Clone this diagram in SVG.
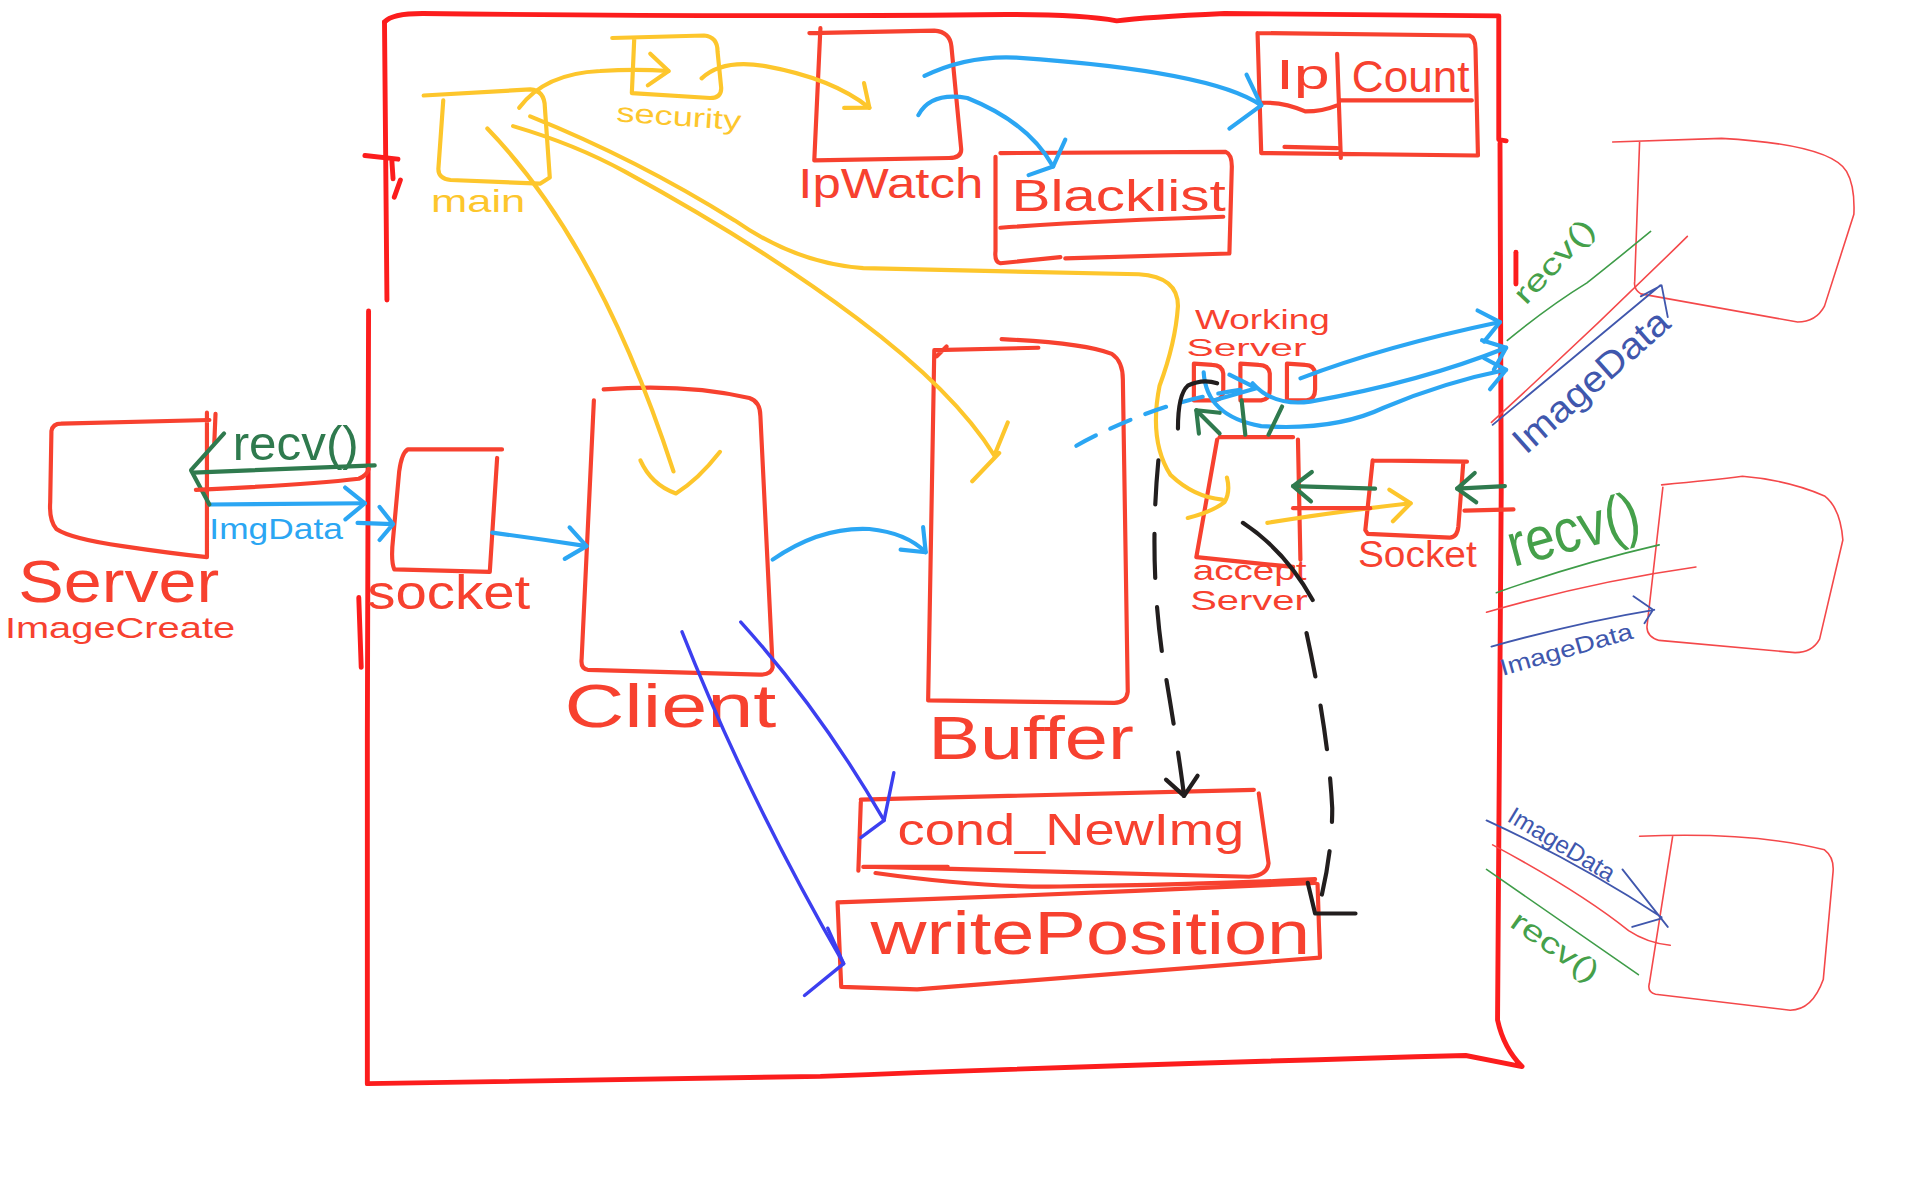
<svg xmlns="http://www.w3.org/2000/svg" width="1920" height="1200" viewBox="0 0 1920 1200">
<defs>
<style>
.s{fill:none;stroke-linecap:round;stroke-linejoin:round}
.r{stroke:#f7412f;stroke-width:3.4}
.o{stroke:#fc1d1d;stroke-width:4}
.y{stroke:#fdc62c;stroke-width:3.4}
.b{stroke:#2ba6f3;stroke-width:3.4}
.g{stroke:#2f7a4e;stroke-width:3.4}
.d{stroke:#3c3ff0;stroke-width:2.8}
.k{stroke:#221e1e;stroke-width:3.4}
.tr{stroke:#f4484a;stroke-width:1.3}
.tg{stroke:#3e9c48;stroke-width:1.3}
.tb{stroke:#4057ad;stroke-width:1.5}
.dash{stroke-dasharray:36 24}
.bdash{stroke-dasharray:18 13}
text{font-family:"Liberation Sans",Arial,sans-serif}
.lr{fill:#f7412f}
.ly{fill:#fdc62c}
.lg{fill:#2f7a4e}
.lb{fill:#2ba6f3}
.ltg{fill:#45a04a}
.ltb{fill:#4057ad}
</style>
<marker id="ab" markerUnits="userSpaceOnUse" viewBox="-20 -16 24 32" markerWidth="24" markerHeight="32" refX="0" refY="0" orient="auto"><path d="M-16,-13 L0,0 L-16,13" fill="none" stroke="#2ba6f3" stroke-width="3.4" stroke-linecap="round" stroke-linejoin="round"/></marker>
<marker id="ay" markerUnits="userSpaceOnUse" viewBox="-20 -16 24 32" markerWidth="24" markerHeight="32" refX="0" refY="0" orient="auto"><path d="M-16,-13 L0,0 L-16,13" fill="none" stroke="#fdc62c" stroke-width="3.4" stroke-linecap="round" stroke-linejoin="round"/></marker>
<marker id="ag" markerUnits="userSpaceOnUse" viewBox="-20 -16 24 32" markerWidth="24" markerHeight="32" refX="0" refY="0" orient="auto"><path d="M-15,-12 L0,0 L-15,12" fill="none" stroke="#2f7a4e" stroke-width="3.4" stroke-linecap="round" stroke-linejoin="round"/></marker>
<marker id="ak" markerUnits="userSpaceOnUse" viewBox="-20 -16 24 32" markerWidth="24" markerHeight="32" refX="0" refY="0" orient="auto"><path d="M-15,-13 L0,0 L-15,13" fill="none" stroke="#221e1e" stroke-width="3.4" stroke-linecap="round" stroke-linejoin="round"/></marker>
</defs>
<rect width="1920" height="1200" fill="#ffffff"/>
<g transform="scale(1.2244898)">

<g id="system-boundary">
<path class="s o" d="M314,18 Q320,11 345,11 Q600,14 800,12 Q880,11 912,17 Q935,14 1000,11 L1224,13 L1224,114 L1230,115"/>
<path class="s o" d="M1225,117 L1226,400 L1223,833 Q1228,856 1243,871 L1197,862 Q900,870 670,879 L300,885"/>
<path class="s o" d="M314,18 L316,245"/>
<path class="s o" d="M301,254 L300,600 L300,885"/>
<path class="s o" d="M293,488 L295,545"/>
<path class="s o" d="M298,127 L325,130 M320,131 L321,146 M327,147 L322,161"/>
<path class="s o" d="M1238,206 L1238,232"/>
</g>

<g id="main">
<path class="s y" d="M346,78 L433,73 Q445,74 445,88 L449,145 L441,150 L368,147 Q358,146 358,138 L362,82"/>
<text class="ly" x="352" y="173" font-size="26" textLength="77" lengthAdjust="spacingAndGlyphs">main</text>
</g>

<g id="security">
<path class="s y" d="M500,31 L575,29 Q586,30 586,42 L589,72 Q589,80 580,80 L516,76 M518,31 L516,76"/>
<text class="ly" x="503" y="99" font-size="22" textLength="102" lengthAdjust="spacingAndGlyphs" transform="rotate(4 503 99)">security</text>
</g>

<g id="ipwatch">
<path class="s r" d="M661,27 L763,25 Q776,26 777,38 L785,122 Q785,129 775,129 L665,131 M670,23 L665,131"/>
<text class="lr" x="652" y="162" font-size="34" textLength="151" lengthAdjust="spacingAndGlyphs">IpWatch</text>
</g>

<g id="blacklist">
<path class="s r" d="M817,125 L1001,124 Q1006,126 1006,136 L1004,207 L870,211 M866,210 L817,215 Q812,214 813,205 L813,128 M817,186 Q900,180 999,177"/>
<text class="lr" x="826" y="172" font-size="36" textLength="175" lengthAdjust="spacingAndGlyphs">Blacklist</text>
</g>

<g id="ip-count">
<path class="s r" d="M1027,27 L1200,29 Q1205,31 1205,40 L1207,127 L1030,125 L1027,27 M1092,44 L1095,129 M1030,84 Q1048,83 1066,91 Q1080,91 1092,86 M1095,82 L1202,82 M1049,120 L1092,121"/>
<text class="lr" x="1042" y="73" font-size="34" textLength="44" lengthAdjust="spacingAndGlyphs">Ip</text>
<text class="lr" x="1104" y="75" font-size="36" textLength="96" lengthAdjust="spacingAndGlyphs">Count</text>
</g>

<g id="server-imagecreate">
<path class="s r" d="M50,346 L171,343 M169,337 L169,455 Q140,452 100,446 Q58,440 46,432 Q40,425 41,410 L42,352 Q43,346 50,346 M176,338 L175,362"/>
<text class="lr" x="15" y="492" font-size="48" textLength="164" lengthAdjust="spacingAndGlyphs">Server</text>
<text class="lr" x="4" y="521" font-size="24" textLength="188" lengthAdjust="spacingAndGlyphs">ImageCreate</text>
</g>

<g id="socket-client-side">
<path class="s r" d="M333,367 L410,367 M406,374 L400,467 L322,465 Q319,458 321,440 L326,385 Q328,370 333,367"/>
<text class="lr" x="300" y="497" font-size="40" textLength="133" lengthAdjust="spacingAndGlyphs">socket</text>
</g>

<g id="client">
<path class="s r" d="M493,318 Q560,313 612,325 Q621,328 621,340 L631,545 Q630,551 620,551 L480,547 Q474,546 475,538 L485,327"/>
<text class="lr" x="461" y="594" font-size="50" textLength="173" lengthAdjust="spacingAndGlyphs">Client</text>
</g>

<g id="buffer">
<path class="s r" d="M763,286 L848,284 M818,277 Q885,280 908,289 Q917,295 917,310 L921,565 Q920,574 910,574 L758,572 L763,286 M765,291 L773,283"/>
<text class="lr" x="758" y="620" font-size="50" textLength="168" lengthAdjust="spacingAndGlyphs">Buffer</text>
</g>

<g id="working-server">
<text class="lr" x="976" y="269" font-size="22" textLength="110" lengthAdjust="spacingAndGlyphs">Working</text>
<text class="lr" x="969" y="291" font-size="20" textLength="98" lengthAdjust="spacingAndGlyphs">Server</text>
<path class="s r" d="M975,297 L975,327 L992,327 Q999,326 999,318 L999,305 Q998,298 990,298 L975,297"/>
<path class="s r" d="M1013,297 L1013,327 L1030,327 Q1037,326 1037,318 L1037,305 Q1036,298 1028,298 L1013,297"/>
<path class="s r" d="M1051,297 L1051,327 L1067,327 Q1074,326 1074,318 L1074,305 Q1073,298 1066,298 L1051,297"/>
</g>

<g id="accept-server">
<path class="s r" d="M996,357 L1056,357 M994,359 L977,455 L1056,463 M1060,359 L1062,457"/>
<text class="lr" x="974" y="474" font-size="22" textLength="93" lengthAdjust="spacingAndGlyphs">accept</text>
<text class="lr" x="972" y="498" font-size="22" textLength="96" lengthAdjust="spacingAndGlyphs">Server</text>
</g>

<g id="socket-server-side">
<path class="s r" d="M1121,376 L1198,377 M1195,378 L1191,430 Q1190,439 1184,439 L1117,436 L1115,433 L1121,376"/>
<text class="lr" x="1109" y="463" font-size="30" textLength="97" lengthAdjust="spacingAndGlyphs">Socket</text>
</g>

<g id="cond-newimg">
<path class="s r" d="M703,653 Q850,650 1024,645 M1028,648 L1036,705 Q1035,715 1020,716 L715,708 M703,655 L701,711 M705,708 L774,708"/>
<text class="lr" x="733" y="690" font-size="36" textLength="283" lengthAdjust="spacingAndGlyphs">cond_NewImg</text>
</g>

<g id="write-position">
<path class="s r" d="M684,737 Q880,730 1074,721 M715,713 Q800,725 866,724 Q1000,722 1074,718 M1076,722 L1078,782 L749,808 L687,806 L684,737"/>
<text class="lr" x="711" y="779" font-size="50" textLength="359" lengthAdjust="spacingAndGlyphs">writePosition</text>
</g>

<g id="remote-client-1">
<path class="s tr" d="M1317,116 L1406,113 Q1495,118 1508,140 Q1515,152 1514,175 L1490,250 Q1483,263 1468,263 L1340,240 Q1334,236 1335,230 L1339,116"/>
</g>
<g id="remote-client-2">
<path class="s tr" d="M1357,396 Q1400,392 1423,389 Q1460,392 1490,405 Q1503,415 1505,441 L1486,522 Q1480,533 1466,533 L1355,523 Q1345,520 1345,512 L1358,398"/>
</g>
<g id="remote-client-3">
<path class="s tr" d="M1339,683 Q1430,679 1490,694 Q1498,700 1497,712 L1489,800 Q1480,825 1462,825 L1352,812 Q1345,810 1347,803 L1366,683"/>
</g>

<g id="connectors">
<path class="s y" d="M424,88 Q445,60 490,58 Q520,56 546,58" marker-end="url(#ay)"/>
<path class="s y" d="M573,64 Q590,48 625,54 Q680,64 710,88" marker-end="url(#ay)"/>
<path class="s y" d="M398,105 Q490,200 550,385"/>
<path class="s y" d="M523,376 Q532,396 552,403 Q570,392 588,369"/>
<path class="s y" d="M419,103 Q470,118 510,140 Q620,200 700,260 Q780,320 812,372 M823,345 L812,372 M794,393 L816,370"/>
<path class="s y" d="M433,95 Q520,130 600,180 Q650,215 705,219 L930,224 Q962,226 962,250 Q960,280 947,315 Q938,360 956,388 Q975,406 998,408"/>
<path class="s y" d="M1002,390 Q1005,402 1000,410 Q990,418 970,423"/>
<path class="s y" d="M1035,427 Q1090,418 1152,411" marker-end="url(#ay)"/>
<path class="s b" d="M755,62 Q790,45 830,47 Q990,58 1030,86"/>
<path class="s b" d="M1018,61 L1030,86 L1004,105"/>
<path class="s b" d="M750,94 Q760,75 790,80 Q840,100 860,136"/>
<path class="s b" d="M870,114 L860,136 L840,143"/>
<path class="s b" d="M171,412 L298,411" marker-end="url(#ab)"/>
<path class="s b" d="M292,427 L321,428 M310,414 L321,428 L310,441"/>
<path class="s b" d="M402,435 Q440,440 479,446" marker-end="url(#ab)"/>
<path class="s b" d="M631,457 Q670,430 710,432 Q740,435 756,451" marker-end="url(#ab)"/>
<path class="s b bdash" d="M879,364 Q950,325 1024,317"/>
<path class="s b" d="M1004,306 L1026,317 L991,327"/>
<path class="s b" d="M1062,309 Q1130,283 1225,263" marker-end="url(#ab)"/>
<path class="s b" d="M1023,313 Q1040,332 1070,328 Q1160,312 1230,284" marker-end="url(#ab)"/>
<path class="s b" d="M983,304 Q985,340 1030,348 Q1090,352 1130,333 Q1180,312 1230,302" marker-end="url(#ab)"/>
<path class="s g" d="M306,380 L158,386"/>
<path class="s g" d="M183,354 L156,384 L171,412"/>
<path class="s g" d="M996,354 L977,335" marker-end="url(#ag)"/>
<path class="s g" d="M1017,355 L1014,327 M1036,355 L1047,332"/>
<path class="s g" d="M1123,399 L1056,397" marker-end="url(#ag)"/>
<path class="s g" d="M1229,397 L1190,399" marker-end="url(#ag)"/>
<text class="lg" x="190" y="376" font-size="40" textLength="103" lengthAdjust="spacingAndGlyphs">recv()</text>
<text class="lb" x="171" y="440" font-size="24" textLength="109" lengthAdjust="spacingAndGlyphs">ImgData</text>
<path class="s r" d="M160,400 Q250,396 293,391 Q300,388 301,383"/>
<path class="s r" d="M1056,415 L1119,415"/>
<path class="s r" d="M1196,417 L1236,416"/>
<path class="s k" d="M962,350 Q962,322 970,315 Q982,309 994,313"/>
<path class="s k dash" d="M946,376 Q938,460 950,540 Q962,610 967,650" marker-end="url(#ak)"/>
<path class="s k" d="M1015,427 Q1050,450 1072,490"/>
<path class="s k dash" d="M1067,517 Q1085,600 1088,660 Q1088,700 1076,745"/>
<path class="s k" d="M1068,721 L1074,746 L1107,746"/>
<path class="s d" d="M557,516 Q610,650 689,787"/>
<path class="s d" d="M676,758 L689,787 L657,813"/>
<path class="s d" d="M605,508 Q670,580 722,670"/>
<path class="s d" d="M730,631 L722,670 L703,684"/>
<path class="s tg" d="M1231,278 Q1265,250 1296,231 Q1320,212 1348,189"/>
<path class="s tr" d="M1218,345 Q1300,270 1378,193"/>
<path class="s tb" d="M1219,347 L1356,233 M1340,242 L1357,233 L1362,259"/>
<text class="ltg" x="1246" y="250" font-size="24" textLength="85" lengthAdjust="spacingAndGlyphs" transform="rotate(-47 1246 250)">recv()</text>
<text class="ltb" x="1246" y="372" font-size="30" textLength="160" lengthAdjust="spacingAndGlyphs" transform="rotate(-41.5 1246 372)">ImageData</text>
<path class="s tg" d="M1222,484 Q1290,460 1355,445"/>
<path class="s tr" d="M1214,500 Q1300,475 1385,463"/>
<path class="s tb" d="M1218,528 Q1290,508 1351,498 M1334,487 L1350,498 L1343,509"/>
<text class="ltg" x="1236" y="463" font-size="50" textLength="110" lengthAdjust="spacingAndGlyphs" transform="rotate(-15 1236 463)">recv()</text>
<text class="ltb" x="1227" y="552" font-size="19" textLength="112" lengthAdjust="spacingAndGlyphs" transform="rotate(-16 1227 552)">ImageData</text>
<path class="s tb" d="M1214,670 Q1290,705 1357,749 M1325,710 L1362,757 M1333,757 L1357,750"/>
<path class="s tr" d="M1219,690 Q1290,728 1330,760 Q1345,770 1364,772"/>
<path class="s tg" d="M1214,710 L1338,796"/>
<text class="ltb" x="1230" y="670" font-size="20" textLength="98" lengthAdjust="spacingAndGlyphs" transform="rotate(31 1230 670)">ImageData</text>
<text class="ltg" x="1232" y="756" font-size="24" textLength="82" lengthAdjust="spacingAndGlyphs" transform="rotate(35 1232 756)">recv()</text>
</g>
</g>
</svg>
